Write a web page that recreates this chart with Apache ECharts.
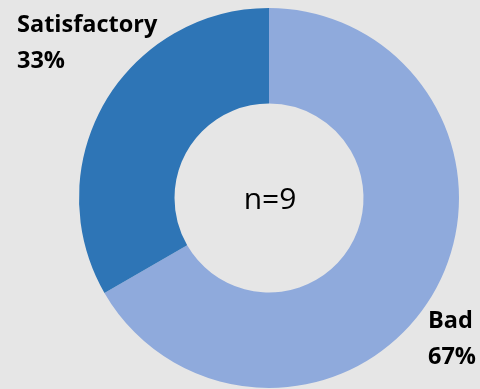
<!DOCTYPE html>
<html><head><meta charset="utf-8">
<script src="https://cdn.jsdelivr.net/npm/echarts@6/dist/echarts.min.js"></script>
<style>html,body{margin:0;padding:0;background:#e6e6e6;}#c{width:480px;height:389px;}</style>
</head><body><div id="c"></div>
<script>
const categories = ['Bad', 'Satisfactory'];
const counts = [6, 3];
const centerText = 'n=9';
const colors = ['#8faadc', '#2e75b6'];

const chart = echarts.init(document.getElementById('c'));
chart.setOption({
  backgroundColor: '#e6e6e6',
  animation: false,
  graphic: [{
    type: 'text',
    x: 270, y: 200,
    style: { text: centerText, font: '30px "Open Sans"', fill: '#000', textAlign: 'center', textVerticalAlign: 'middle' }
  }],
  series: [{
    type: 'pie',
    center: [269, 198],
    radius: [94.5, 190],
    startAngle: 90,
    clockwise: true,
    avoidLabelOverlap: false,
    data: categories.map((c, i) => ({ name: c, value: counts[i], itemStyle: { color: colors[i] } })),
    itemStyle: { borderWidth: 0 },
    label: {
      show: true,
      position: 'outside',
      formatter: p => p.name + '\n' + Math.round(p.percent) + '%',
      fontFamily: 'Open Sans',
      fontWeight: 'bold',
      fontSize: 23.5,
      lineHeight: 36,
      color: '#000',
      align: 'left',
      overflow: 'none'
    },
    labelLine: { show: false },
    labelLayout: function (p) {
      if (p.dataIndex === 0) return { x: 428, y: 339, align: 'left', verticalAlign: 'middle', hideOverlap: false };
      return { x: 17, y: 43, align: 'left', verticalAlign: 'middle', hideOverlap: false };
    }
  }]
});
</script></body></html>
